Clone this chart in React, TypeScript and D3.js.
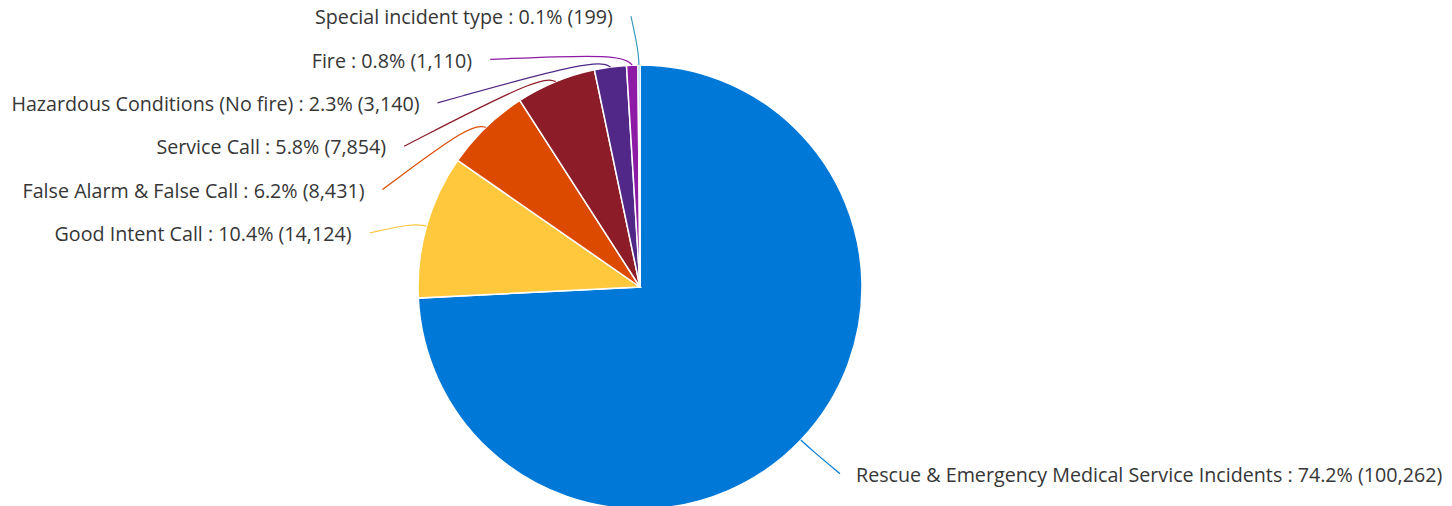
import React, { useEffect, useRef } from 'react';
import * as d3 from 'd3';

const categories = [
  'Rescue & Emergency Medical Service Incidents',
  'Good Intent Call',
  'False Alarm & False Call',
  'Service Call',
  'Hazardous Conditions (No fire)',
  'Fire',
  'Special incident type',
];
const counts = [100262, 14124, 8431, 7854, 3140, 1110, 199];
const percents = ['74.2%', '10.4%', '6.2%', '5.8%', '2.3%', '0.8%', '0.1%'];
const colors = ['#0078D7', '#FFC83D', '#DC4A00', '#8C1C27', '#512888', '#8E1BA5', '#3A9BBB'];

const W = 1452;
const H = 506;

export default function App() {
  const svgRef = useRef<SVGSVGElement>(null);

  useEffect(() => {
    if (!svgRef.current) return;
    const svg = d3.select(svgRef.current);
    svg.selectAll('*').remove();

    const cx = 640;
    const cy = 287;
    const r = 222;
    // label ellipse
    const rx = 276;
    const ry = 271;
    const gap = 43.4;

    const data = categories.map((c, i) => ({ name: c, value: counts[i], pct: percents[i], color: colors[i] }));
    const pie = d3.pie<any>().sort(null).value(d => d.value);
    const arcs = pie(data);
    const arc = d3.arc<any>().innerRadius(0).outerRadius(r);

    const g = svg.append('g').attr('transform', `translate(${cx},${cy})`);

    g.selectAll('path.slice')
      .data(arcs)
      .enter()
      .append('path')
      .attr('class', 'slice')
      .attr('d', arc)
      .attr('fill', d => d.data.color)
      .attr('stroke', '#fff')
      .attr('stroke-width', 1.5);

    // label layout
    const fmt = d3.format(',');
    const items = arcs.map(a => {
      const mid = (a.startAngle + a.endAngle) / 2;
      const right = Math.sin(mid) >= 0;
      return {
        a,
        mid,
        right,
        want: -ry * Math.cos(mid),
        y: 0,
        x: 0,
      };
    });

    const spread = (list: typeof items) => {
      list.sort((p, q) => p.want - q.want);
      let prev = -Infinity;
      list.forEach(it => {
        let y = Math.max(it.want, prev + gap, -ry);
        y = Math.min(y, ry);
        it.y = y;
        prev = y;
      });
    };
    spread(items.filter(it => !it.right));
    spread(items.filter(it => it.right));

    const elbowR = r + 13;
    items.forEach(it => {
      const ex = elbowR * Math.sin(it.mid);
      const t = Math.max(0, 1 - (it.y / ry) ** 2);
      let x = rx * Math.sqrt(t);
      if (it.right) {
        x = Math.max(x, ex + 8);
      } else {
        x = Math.min(-x, ex - 8);
      }
      it.x = x;
    });

    const line = d3.line<[number, number]>().curve(d3.curveBundle.beta(0.85));

    items.forEach(it => {
      const s: [number, number] = [r * Math.sin(it.mid), -r * Math.cos(it.mid)];
      const e: [number, number] = [elbowR * Math.sin(it.mid), -elbowR * Math.cos(it.mid)];
      const end: [number, number] = [it.x, it.y];
      g.append('path')
        .attr('d', line([s, e, end]))
        .attr('fill', 'none')
        .attr('stroke', it.a.data.color)
        .attr('stroke-width', 1.2)
        .attr('stroke-linejoin', 'round');

      g.append('text')
        .attr('x', it.right ? it.x + 16 : it.x - 18)
        .attr('y', it.y + 3)
        .attr('text-anchor', it.right ? 'start' : 'end')
        .attr('dominant-baseline', 'middle')
        .attr('font-family', '"Segoe UI", "Open Sans", sans-serif')
        .attr('font-size', 19.7)
        .attr('fill', '#363636')
        .text(`${it.a.data.name} : ${it.a.data.pct} (${fmt(it.a.data.value)})`);
    });
  }, []);

  return (
    <svg
      ref={svgRef}
      width={W}
      height={H}
      style={{ position: 'absolute', left: 0, top: 0, background: '#fff' }}
    />
  );
}
